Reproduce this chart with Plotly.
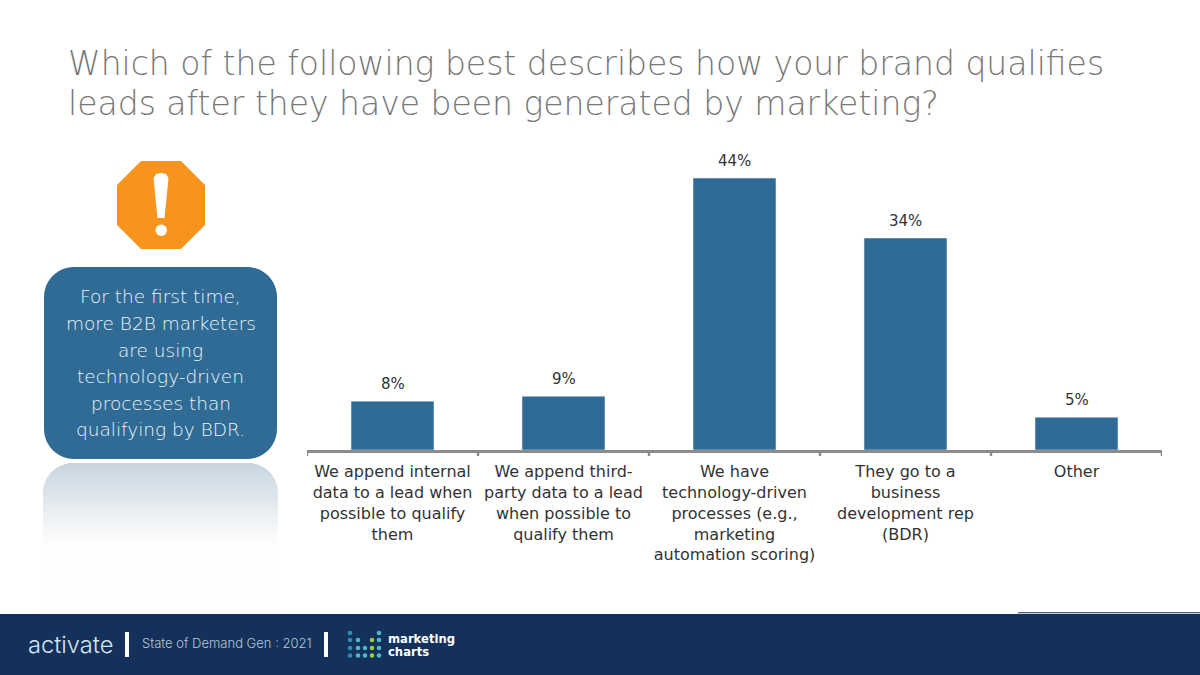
import math
import plotly.graph_objects as go

categories = ["We append internal<br>data to a lead when<br>possible to qualify<br>them",
              "We append third-<br>party data to a lead<br>when possible to<br>qualify them",
              "We have<br>technology-driven<br>processes (e.g.,<br>marketing<br>automation scoring)",
              "They go to a<br>business<br>development rep<br>(BDR)",
              "Other"]
values = [7.9, 8.7, 44, 34.3, 5.3]
title_lines = ["Which of the following best describes how your brand qualifies",
               "leads after they have been generated by marketing?"]
callout_lines = ["For the first time,", "more B2B marketers", "are using",
                 "technology-driven", "processes than", "qualifying by BDR."]
FONT = "DejaVu Sans"
LIGHT = "DejaVu Sans ExtraLight, DejaVu Sans Light, Inter"
W, H = 1200, 675

def X(p): return p / W
def Y(p): return 1 - p / H

def path(points, close=True):
    d = "M" + " L".join(f"{X(x):.5f},{Y(y):.5f}" for x, y in points)
    return d + (" Z" if close else "")

def round_rect(x0, y0, x1, y1, r):
    pts = []
    for cx, cy, a0 in [(x1 - r, y0 + r, -90), (x1 - r, y1 - r, 0), (x0 + r, y1 - r, 90), (x0 + r, y0 + r, 180)]:
        for i in range(13):
            a = math.radians(a0 + 90 * i / 12)
            pts.append((cx + r * math.cos(a), cy + r * math.sin(a)))
    return path(pts)

shapes = []
def add_path(d, color):
    shapes.append(dict(type="path", xref="paper", yref="paper", path=d, fillcolor=color, line_width=0, layer="below"))
def add_rect(x0, y0, x1, y1, color, layer="below"):
    shapes.append(dict(type="rect", xref="paper", yref="paper", x0=X(x0), x1=X(x1), y0=Y(y1), y1=Y(y0),
                       fillcolor=color, line_width=0, layer=layer))

# faint panel under the reflection
add_rect(42, 540, 280, 613, "#fdfdfd")
# reflection with fading rounded top
refl_top, refl_bot, refl_r = 463, 541, 30
for yy in range(refl_top, refl_bot):
    t = (yy - refl_top) / (refl_bot - refl_top)
    c = [round(a + (b - a) * t) for a, b in zip((200, 213, 223), (253, 253, 253))]
    inset = 0
    if yy - refl_top < refl_r:
        d = refl_r - (yy - refl_top + .5)
        inset = refl_r - math.sqrt(refl_r ** 2 - d ** 2)
    add_rect(43 + inset, yy, 278 - inset, yy + 1.3, f"rgb({c[0]},{c[1]},{c[2]})")

add_path(round_rect(44, 267, 277, 459, 30), "#2f6b94")
# warning sign
add_path(path([(141, 161), (181, 161), (205, 185), (205, 225), (181, 249), (141, 249), (117, 225), (117, 185)]), "#f7941d")
add_path(path([(153.5, 178), (156, 174), (161, 173), (166, 174), (168.5, 178), (164.5, 218), (157.5, 218)]), "#ffffff")
shapes.append(dict(type="circle", xref="paper", yref="paper", x0=X(155.5), x1=X(167), y0=Y(236), y1=Y(224.5),
                   fillcolor="#ffffff", line_width=0, layer="below"))
# footer
add_rect(0, 614, 1200, 675, "#13315a")
add_rect(1018, 612.3, 1200, 613.2, "#13315a")
add_rect(125, 632, 129, 657, "#ffffff")
add_rect(324, 632, 328, 657, "#ffffff")

annotations = []
def label(x, y, text, size, color, anchor="left", weight=None, family=FONT):
    annotations.append(dict(xref="paper", yref="paper", x=X(x), y=Y(y), text=text, showarrow=False,
                            xanchor=anchor, yanchor="middle", align=anchor,
                            font=dict(family=family, size=size, color=color, weight=weight)))

for line, y in zip(title_lines, [63, 104]):
    label(66, y, line, 33, "#787878", family=LIGHT)
for line, y in zip(callout_lines, [296, 323, 350, 376, 403, 429]):
    label(160.5, y, line, 18.5, "#eef4f8", "center", family=LIGHT)
label(26, 644, "activate", 23.7, "#d7e3ef", weight=300, family="Inter")
label(140, 643, "State of Demand Gen : 2021", 13, "#b9c6d6", weight=300, family="Inter")
label(386, 638.5, "marketing", 11.6, "#ffffff", weight=700)
label(386, 651.5, "charts", 11.6, "#ffffff", weight=700)

# logo dots
logo_blue, logo_teal, logo_green = "#2f8fb0", "#4fb8c8", "#9ccb3b"
logo_dots = [(350, 633, logo_blue), (379, 633, logo_teal),
             (350, 640, logo_blue), (358, 640, logo_teal), (372, 640, logo_green), (379, 640, logo_teal),
             (350, 648, logo_blue), (358, 648, logo_teal), (365, 648, logo_teal), (372, 648, logo_green), (379, 648, logo_teal),
             (350, 655.5, logo_blue), (358, 655.5, logo_teal), (365, 655.5, logo_teal), (372, 655.5, logo_green), (379, 655.5, logo_teal)]
for x, y, c in logo_dots:
    shapes.append(dict(type="circle", xref="paper", yref="paper", x0=X(x - 2.3), x1=X(x + 2.3), y0=Y(y + 2.3), y1=Y(y - 2.3),
                       fillcolor=c, line_width=0, layer="below"))

positions = list(range(5))
fig = go.Figure(go.Bar(x=positions, y=values, width=0.485, marker_color="#2f6b94", hoverinfo="skip"))
for p, v in zip(positions, values):
    fig.add_annotation(x=p, y=v, xref="x", yref="y", text=f"{v:.0f}%", showarrow=False, yanchor="bottom", yshift=6,
                       font=dict(family=FONT, size=15, color="#333333"))
fig.update_layout(width=W, height=H, autosize=False, margin=dict(l=0, r=0, t=0, b=0), showlegend=False,
                  paper_bgcolor="#ffffff", plot_bgcolor="rgba(0,0,0,0)", shapes=shapes,
                  annotations=list(fig.layout.annotations) + annotations, font=dict(family=FONT))
fig.update_xaxes(domain=[X(307), X(1162)], range=[-0.5, 4.5], tickmode="array", tickvals=positions,
                 ticktext=categories, showline=True, linecolor="#8c8c8c", linewidth=3, ticks="", showgrid=False,
                 zeroline=False, tickangle=0, ticklabelstandoff=5,
                 tickfont=dict(family=FONT, size=16, color="#333333"))
fig.update_yaxes(domain=[Y(450), Y(140)], range=[0, 310 / 6.18], visible=False)
# separators between categories on the axis
for i in range(6):
    fig.add_shape(type="line", xref="x", yref="paper", x0=i - 0.5, x1=i - 0.5, y0=Y(450), y1=Y(456),
                  line=dict(color="#8c8c8c", width=2.5))
fig.write_html("out.html", config={"displayModeBar": False},
               post_script="document.body.style.margin='0';document.body.style.overflow='hidden';")
